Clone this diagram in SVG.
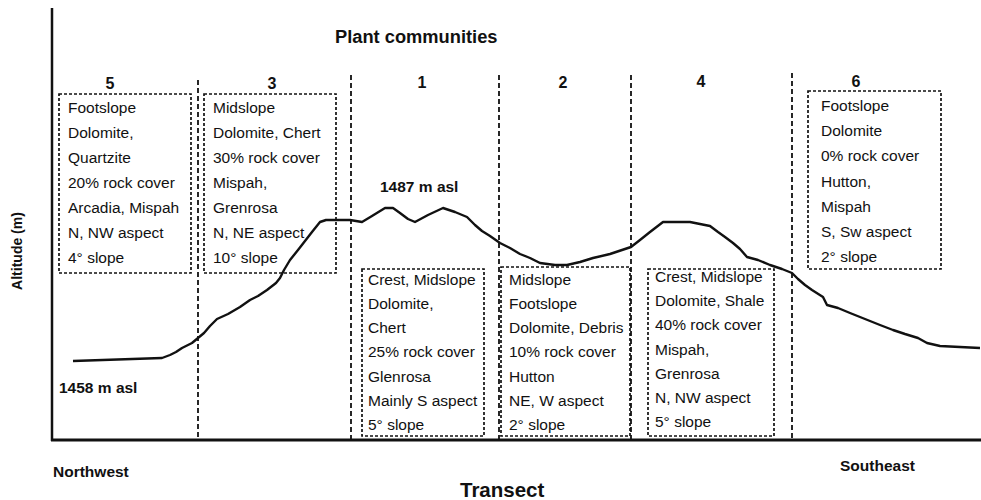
<svg xmlns="http://www.w3.org/2000/svg" width="981" height="500" viewBox="0 0 981 500">
<style>
.bx{fill:none;stroke:#111;stroke-width:1.7;stroke-dasharray:3 2}
.dv{fill:none;stroke:#111;stroke-width:1.8;stroke-dasharray:5 3}
.t{font-family:"Liberation Sans",Arial,sans-serif;font-size:15.5px;fill:#111}
.b{font-family:"Liberation Sans",Arial,sans-serif;font-weight:bold;fill:#111}
</style>
<rect width="981" height="500" fill="#fff"/>
<g id="axes" fill="none" stroke="#111">
<line x1="52" y1="8" x2="52" y2="441" stroke-width="2.5"/>
<line x1="51" y1="440" x2="981" y2="440" stroke-width="3"/>
</g>
<g id="dividers">
<line class="dv" x1="198" y1="80" x2="198" y2="440"/>
<line class="dv" x1="351" y1="75" x2="351" y2="440"/>
<line class="dv" x1="499" y1="75" x2="499" y2="440"/>
<line class="dv" x1="631" y1="75" x2="631" y2="440"/>
<line class="dv" x1="792" y1="73" x2="792" y2="440"/>
</g>
<g id="profile">
<path d="M73,361 L162,358 L170,355 L176,352 L182,348 L192,343 L198,338 L204,333 L210,326 L217,319 L228,314 L240,307 L250,300 L258,296 L267,290 L276,283 L280,278 L284,270 L290,260 L298,250 L305,241 L312,232 L320,222 L326,220 L350,220 L362,222 L372,216 L385,208 L393,208 L400,213 L408,219 L415,222 L428,215 L443,208 L455,212 L467,217 L475,225 L482,231 L490,236 L500,243 L510,248 L520,254 L530,258 L540,263 L555,265 L567,265 L580,262 L593,258 L610,254 L631,247 L640,240 L650,232 L663,222 L690,222 L700,224 L710,226 L718,232 L725,237 L733,243 L740,249 L747,257 L758,260 L770,265 L782,269 L792,273 L798,279 L805,285 L812,290 L823,297 L827,305 L838,308 L850,313 L865,319 L880,325 L893,330 L905,334 L918,338 L927,343 L940,346 L960,347 L980,348" fill="none" stroke="#111" stroke-width="2.4" stroke-linejoin="round"/>
</g>
<text class="b" x="335" y="43" font-size="18.3">Plant communities</text>
<g id="c5">
<text class="b" x="110" y="89" font-size="16" text-anchor="middle">5</text>
<rect class="bx" x="59" y="94" width="132" height="179"/>
<text class="t" x="68" y="113">Footslope</text>
<text class="t" x="68" y="138">Dolomite,</text>
<text class="t" x="68" y="163">Quartzite</text>
<text class="t" x="68" y="188">20% rock cover</text>
<text class="t" x="68" y="213">Arcadia, Mispah</text>
<text class="t" x="68" y="238">N, NW aspect</text>
<text class="t" x="68" y="263">4° slope</text>
</g>
<g id="c3">
<text class="b" x="272" y="89" font-size="16" text-anchor="middle">3</text>
<rect class="bx" x="204" y="94" width="132" height="179"/>
<text class="t" x="213" y="113">Midslope</text>
<text class="t" x="213" y="138">Dolomite, Chert</text>
<text class="t" x="213" y="163">30% rock cover</text>
<text class="t" x="213" y="188">Mispah,</text>
<text class="t" x="213" y="213">Grenrosa</text>
<text class="t" x="213" y="238">N, NE aspect</text>
<text class="t" x="213" y="263">10° slope</text>
</g>
<g id="c1">
<text class="b" x="422" y="88" font-size="16" text-anchor="middle">1</text>
<rect class="bx" x="362" y="269" width="122" height="167"/>
<text class="t" x="368" y="285">Crest, Midslope</text>
<text class="t" x="368" y="309">Dolomite,</text>
<text class="t" x="368" y="333">Chert</text>
<text class="t" x="368" y="357">25% rock cover</text>
<text class="t" x="368" y="382">Glenrosa</text>
<text class="t" x="368" y="406">Mainly S aspect</text>
<text class="t" x="368" y="430">5° slope</text>
</g>
<g id="c2">
<text class="b" x="563" y="88" font-size="16" text-anchor="middle">2</text>
<rect class="bx" x="501" y="267" width="129" height="169"/>
<text class="t" x="509" y="285">Midslope</text>
<text class="t" x="509" y="309">Footslope</text>
<text class="t" x="509" y="333">Dolomite, Debris</text>
<text class="t" x="509" y="357">10% rock cover</text>
<text class="t" x="509" y="382">Hutton</text>
<text class="t" x="509" y="406">NE, W aspect</text>
<text class="t" x="509" y="430">2° slope</text>
</g>
<g id="c4">
<text class="b" x="701" y="87" font-size="16" text-anchor="middle">4</text>
<rect class="bx" x="648" y="269" width="126" height="167"/>
<text class="t" x="655" y="282">Crest, Midslope</text>
<text class="t" x="655" y="306">Dolomite, Shale</text>
<text class="t" x="655" y="330">40% rock cover</text>
<text class="t" x="655" y="355">Mispah,</text>
<text class="t" x="655" y="379">Grenrosa</text>
<text class="t" x="655" y="403">N, NW aspect</text>
<text class="t" x="655" y="427">5° slope</text>
</g>
<g id="c6">
<text class="b" x="856" y="87" font-size="16" text-anchor="middle">6</text>
<rect class="bx" x="808" y="91" width="133" height="178"/>
<text class="t" x="821" y="111">Footslope</text>
<text class="t" x="821" y="136">Dolomite</text>
<text class="t" x="821" y="161">0% rock cover</text>
<text class="t" x="821" y="187">Hutton,</text>
<text class="t" x="821" y="212">Mispah</text>
<text class="t" x="821" y="237">S, Sw aspect</text>
<text class="t" x="821" y="262">2° slope</text>
</g>
<text class="b" x="380" y="192" font-size="15.5">1487 m asl</text>
<text class="b" x="59" y="393" font-size="15.5">1458 m asl</text>
<text class="b" x="53" y="477" font-size="15.5">Northwest</text>
<text class="b" x="840" y="471" font-size="15.5">Southeast</text>
<text class="b" x="460" y="497" font-size="20.5">Transect</text>
<text class="b" x="0" y="0" font-size="14" text-anchor="middle" transform="translate(22,251) rotate(-90)">Altitude (m)</text>
</svg>
